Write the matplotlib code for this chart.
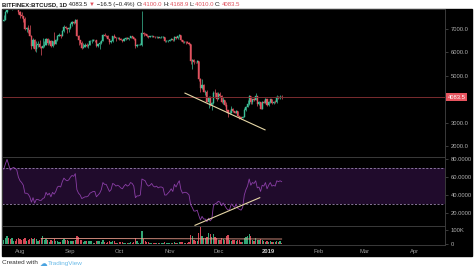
import matplotlib
matplotlib.use('Agg')
import matplotlib.pyplot as plt
import matplotlib.dates as mdates
from matplotlib.patches import Rectangle
import numpy as np
import pandas as pd

# BITFINEX:BTCUSD daily, 2018-07-22 .. 2019-01-09
start = '2018-07-22'
first_open = 7330
closes = [7400, 7720, 8400, 8170, 7940, 8180, 8230, 8210, 8170, 7730,
          7600, 7540, 7420, 7010, 7030, 6940, 6720, 6290, 6540, 6150, 6330, 6340, 6250, 6200, 6280, 6320,
          6590, 6390, 6500, 6260, 6480, 6380, 6540, 6700, 6740, 6710, 6920, 7100, 7050, 6990, 7030,
          7200, 7300, 7270, 7380, 6710, 6520, 6420, 6200, 6250, 6310, 6290, 6330, 6490, 6500, 6530,
          6510, 6260, 6340, 6400, 6500, 6760, 6720, 6710, 6590, 6430, 6470, 6680, 6640, 6600, 6630,
          6590, 6530, 6490, 6580, 6630, 6580, 6610, 6680, 6650, 6590, 6280, 6320, 6320, 6330, 6830,
          6800, 6790, 6680, 6650, 6690, 6700, 6660, 6640, 6660, 6630, 6640, 6650, 6650, 6480, 6490, 6500,
          6530, 6580, 6520, 6650, 6620, 6680, 6740, 6530, 6430, 6450, 6440, 6420, 6360, 5650, 5660,
          5580, 5570, 5620, 4860, 4480, 4620, 4320, 4320, 3900, 4040, 3770, 3820, 4280, 4270, 4020,
          4210, 4140, 3860, 3960, 3750, 3520, 3400, 3430, 3600, 3500, 3420, 3500, 3280, 3230, 3200,
          3240, 3550, 3680, 3790, 4140, 3860, 4000, 3970, 4120, 3800, 3860, 3600, 3900, 3840, 4010, 3760,
          3890, 3990, 3850, 3900, 3860, 4100, 4040, 4100, 4083.5]
highs = [7580, 7760, 8480, 8490, 8300, 8270, 8250, 8300, 8260, 8200,
         7760, 7720, 7560, 7500, 7090, 7160, 7150, 6730, 6630, 6580, 6480, 6480, 6550, 6260, 6620, 6480,
         6600, 6620, 6560, 6530, 6500, 6890, 6580, 6730, 6810, 6790, 6940, 7150, 7140, 7060, 7080,
         7270, 7350, 7340, 7420, 7410, 6730, 6550, 6500, 6400, 6390, 6410, 6350, 6540, 6580, 6570,
         6540, 6520, 6380, 6480, 6530, 6790, 6810, 6760, 6730, 6590, 6540, 6700, 6800, 6640, 6660,
         6650, 6610, 6550, 6610, 6660, 6640, 6630, 6720, 6690, 6660, 6600, 6350, 6350, 6420, 7777,
         6880, 6820, 6800, 6700, 6710, 6750, 6720, 6680, 6700, 6670, 6670, 6680, 6680, 6670, 6520, 6540,
         6560, 6600, 6590, 6700, 6660, 6720, 6790, 6750, 6550, 6480, 6470, 6480, 6440, 6380, 5700,
         5700, 5610, 5680, 5620, 4900, 4850, 4640, 4410, 4400, 4120, 4150, 3890, 4350, 4440, 4300,
         4300, 4320, 4160, 4080, 3980, 3860, 3550, 3540, 3710, 3630, 3510, 3550, 3500, 3300, 3260,
         3300, 3620, 3700, 3950, 4200, 4150, 4020, 4050, 4270, 4120, 3910, 3890, 3940, 3960, 4040, 4020,
         3920, 4020, 3990, 3920, 3950, 4160, 4120, 4180, 4168.9]
lows = [7330, 7380, 7700, 8060, 7860, 7800, 8080, 8140, 7850, 7640,
        7460, 7480, 7300, 6960, 6880, 6850, 6680, 6130, 6200, 6050, 6000, 6240, 6180, 5880, 6200, 6240,
        6300, 6320, 6340, 6240, 6250, 6300, 6350, 6480, 6680, 6610, 6680, 6890, 6990, 6820, 6880,
        7010, 7140, 7210, 7240, 6680, 6310, 6380, 6130, 6170, 6240, 6230, 6200, 6310, 6410, 6470,
        6430, 6230, 6250, 6140, 6370, 6490, 6680, 6660, 6570, 6360, 6400, 6440, 6620, 6500, 6560,
        6550, 6510, 6440, 6480, 6550, 6560, 6550, 6600, 6620, 6540, 6200, 6250, 6300, 6300, 6280,
        6720, 6740, 6640, 6620, 6640, 6670, 6640, 6610, 6630, 6610, 6610, 6630, 6630, 6440, 6460, 6460,
        6480, 6520, 6500, 6500, 6560, 6590, 6660, 6500, 6400, 6420, 6380, 6390, 6330, 5500, 5300,
        5520, 5530, 5550, 4780, 4300, 4420, 4290, 4180, 3860, 3640, 3720, 3550, 3800, 4090, 3930,
        4000, 4080, 3820, 3810, 3720, 3480, 3260, 3350, 3420, 3460, 3390, 3400, 3260, 3150, 3160,
        3200, 3230, 3480, 3660, 3770, 3790, 3810, 3930, 3960, 3700, 3740, 3570, 3580, 3830, 3830, 3720,
        3700, 3840, 3800, 3780, 3830, 3830, 4000, 4030, 4010]
volumes_k = [30, 45, 60, 45, 38, 40, 22, 20, 35, 42,
             38, 30, 35, 40, 22, 28, 35, 45, 38, 42, 35, 20, 32, 45, 55, 30,
             38, 28, 18, 30, 25, 38, 22, 25, 15, 14, 28, 35, 28, 30, 25,
             22, 24, 20, 30, 55, 48, 30, 28, 18, 20, 22, 20, 24, 22, 12,
             12, 22, 20, 25, 18, 30, 18, 12, 15, 20, 18, 22, 20, 12, 10,
             14, 14, 13, 12, 12, 8, 8, 14, 12, 14, 42, 20, 10, 9, 88,
             35, 20, 18, 15, 8, 8, 12, 12, 12, 10, 10, 7, 6, 18, 10, 10,
             10, 10, 7, 14, 12, 12, 16, 15, 14, 8, 9, 12, 16, 62, 55,
             30, 20, 22, 80, 115, 60, 42, 45, 50, 75, 68, 48, 70, 52, 45,
             30, 28, 40, 35, 32, 55, 62, 30, 25, 28, 26, 25, 28, 30, 18,
             15, 45, 50, 55, 72, 55, 30, 22, 45, 30, 28, 35, 30, 20, 18, 22,
             14, 20, 18, 16, 14, 22, 18, 20, 12]
rsi = [69, 75, 80, 74, 68, 70, 71, 70, 68, 60,
       56, 54, 51, 42, 42, 41, 38, 32, 37, 31, 35, 35, 34, 34, 36, 37,
       43, 40, 42, 38, 43, 41, 44, 49, 50, 49, 55, 59, 57, 56, 57,
       60, 62, 61, 64, 46, 42, 40, 36, 37, 38, 38, 39, 42, 43, 44,
       44, 38, 40, 42, 46, 54, 52, 52, 48, 44, 46, 53, 52, 50, 51,
       50, 48, 47, 50, 52, 50, 51, 54, 53, 50, 37, 39, 39, 40, 58,
       57, 56, 52, 50, 51, 53, 50, 49, 50, 48, 49, 49, 48, 40, 40, 42,
       44, 47, 44, 52, 49, 53, 56, 46, 42, 43, 43, 42, 40, 29, 26,
       22, 22, 23, 17, 12, 16, 13, 13, 10, 14, 11, 13, 28, 30, 31,
       33, 32, 28, 31, 28, 25, 23, 24, 30, 28, 26, 30, 25, 24, 23,
       26, 40, 46, 50, 58, 51, 54, 53, 56, 48, 49, 44, 51, 50, 54, 47,
       51, 54, 50, 51, 50, 56, 55, 56, 55]

price_trend_dates = ['2018-11-10 12:00', '2018-12-29 18:00']
price_trend_vals = [4260, 2690]
rsi_trend_dates = ['2018-11-16 16:00', '2018-12-26 12:00']
rsi_trend_vals = [6, 37]
vol_line_dates = ['2018-08-14', '2019-01-09']
vol_line_vals = [40, 36]
last_price = 4083.5
price_ticks = [2000, 3000, 5000, 6000, 7000]
rsi_ticks = [20, 40, 60, 80]
month_labels = ['Aug', 'Sep', 'Oct', 'Nov', 'Dec', '2019', 'Feb', 'Mar', 'Apr']
month_starts = ['2018-08-01', '2018-09-01', '2018-10-01', '2018-11-01', '2018-12-01',
                '2019-01-01', '2019-02-01', '2019-03-01', '2019-04-01']

UP, DOWN = '#3dbf98', '#e0525f'
VUP, VDOWN = '#34a877', '#d44857'
AXC = '#b0b0b0'
plt.rcParams['font.family'] = ['Liberation Sans', 'DejaVu Sans']

dates = pd.date_range(start, periods=len(closes), freq='D')
x = mdates.date2num(dates)
c = np.array(closes)
o = np.array([first_open] + closes[:-1])
up = c >= o

W, H = 474, 273
fig = plt.figure(figsize=(W / 100, H / 100), dpi=100)
fig.patch.set_facecolor('white')
fig.add_artist(Rectangle((2 / W, 1 - 256 / H), 470 / W, 247 / H,
                         transform=fig.transFigure, color='black', zorder=0))


def pane(top, bottom):
    ax = fig.add_axes([2 / W, 1 - bottom / H, 443 / W, (bottom - top) / H])
    ax.set_facecolor('black')
    for s in ax.spines.values():
        s.set_color('#3a3a3a')
        s.set_linewidth(0.7)
    ax.yaxis.tick_right()
    ax.tick_params(axis='y', colors='#555555', labelcolor=AXC, labelsize=4.2,
                   length=2, width=0.5, pad=2)
    ax.tick_params(axis='x', length=0, labelbottom=False)
    ax.set_xlim(x[0] - 1.1, x[0] + 271.5)
    return ax


ax_p = pane(9, 157)
ax_r = pane(157, 226)
ax_v = pane(226, 245)

# candles
ax_p.vlines(x, lows, highs, colors=np.where(up, UP, DOWN), linewidth=0.5)
ax_p.bar(x, np.abs(c - o), bottom=np.minimum(c, o), width=0.7,
         color=np.where(up, UP, DOWN), edgecolor=np.where(up, UP, DOWN), linewidth=0.3)
ax_p.axhline(last_price, color='#7a2c2f', linewidth=0.7)
ax_p.plot(mdates.date2num(pd.to_datetime(price_trend_dates)), price_trend_vals,
          color='#e6d7a6', linewidth=0.8)
ax_p.set_ylim(1530, 7855)
ax_p.set_yticks(price_ticks)
ax_p.set_yticklabels([f'{v:.1f}' for v in price_ticks])
ax_p.text(1.006, last_price, f'{last_price:.1f}', transform=ax_p.get_yaxis_transform(),
          ha='left', va='center', fontsize=4.2, color='white', clip_on=False,
          bbox=dict(boxstyle='square,pad=0.25', fc='#e8545f', ec='none'))

# RSI
ax_r.axhspan(30, 70, color='#200b2c', linewidth=0)
for lvl in (30, 70):
    ax_r.axhline(lvl, color='#9c88b0', linewidth=0.6, dashes=(2.5, 2))
ax_r.plot(x, rsi, color='#8a3ea6', linewidth=0.6)
ax_r.plot(mdates.date2num(pd.to_datetime(rsi_trend_dates)), rsi_trend_vals,
          color='#e6d7a6', linewidth=0.8)
ax_r.set_ylim(5.2, 82.7)
ax_r.set_yticks(rsi_ticks)
ax_r.set_yticklabels([f'{v:.4f}' for v in rsi_ticks])

# volume
ax_v.bar(x, volumes_k, width=0.75, color=np.where(up, VUP, VDOWN), linewidth=0)
ax_v.plot(mdates.date2num(pd.to_datetime(vol_line_dates)), vol_line_vals,
          color='#e89a8a', linewidth=0.6)
ax_v.set_ylim(-5, 125)
ax_v.set_yticks([0, 100])
ax_v.set_yticklabels(['0', '100K'])

ticks = mdates.date2num(pd.to_datetime(month_starts))
ax_v.set_xticks(ticks)
ax_v.set_xticklabels(month_labels)
ax_v.tick_params(axis='x', labelbottom=True, labelsize=4.2, labelcolor='#9a9a9a', pad=3)
for lab in ax_v.get_xticklabels():
    if lab.get_text() == '2019':
        lab.set_fontweight('bold')
        lab.set_color('#d0d0d0')

# header line with symbol and OHLC
fig.canvas.draw()
renderer = fig.canvas.get_renderer()
pieces = [('BITFINEX:BTCUSD, 1D', '#1a1a1a', 'bold'), (' 4083.5 ', '#1a1a1a', 'normal'),
          ('▼', '#e0525f', 'normal'), (' −16.5 (−0.4%) ', '#1a1a1a', 'normal'),
          ('O:', '#1a1a1a', 'normal'), ('4100.0 ', '#e0525f', 'normal'),
          ('H:', '#1a1a1a', 'normal'), ('4168.9 ', '#e0525f', 'normal'),
          ('L:', '#1a1a1a', 'normal'), ('4010.0 ', '#e0525f', 'normal'),
          ('C:', '#1a1a1a', 'normal'), ('4083.5', '#e0525f', 'normal')]
xpos = 2
for s, col, wt in pieces:
    t = fig.text(xpos / W, 1 - 4.5 / H, s, color=col, fontweight=wt, fontsize=4.3,
                 va='center', ha='left')
    xpos = t.get_window_extent(renderer).x1 + 0.2

# footer
t = fig.text(2 / W, 1 - 263 / H, 'Created with ', color='#333333', fontsize=4.6, va='center')
xpos = t.get_window_extent(renderer).x1
t = fig.text(xpos / W, 1 - 263 / H, '☁', color='#4aa3e0', fontsize=5.5, va='center',
             family='DejaVu Sans')
xpos = t.get_window_extent(renderer).x1 + 1
fig.text(xpos / W, 1 - 263 / H, 'TradingView', color='#6bbbe8', fontsize=4.6, va='center')

fig.savefig('out.png', dpi=100, facecolor='white')
